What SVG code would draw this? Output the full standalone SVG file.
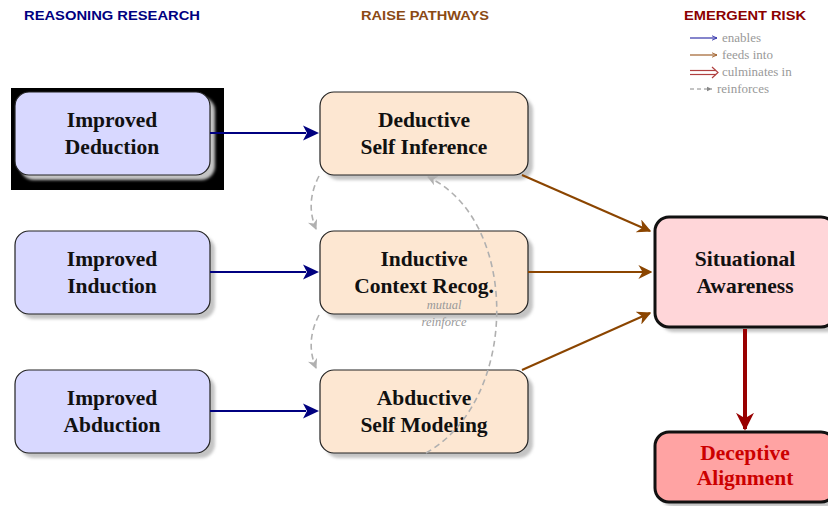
<svg xmlns="http://www.w3.org/2000/svg" width="828" height="506" viewBox="0 0 828 506">
<defs>
<filter id="bl" x="-10%" y="-10%" width="120%" height="120%">
<feGaussianBlur stdDeviation="1.5"/>
</filter>
<marker id="mo" viewBox="0 0 10 10" refX="9" refY="5" markerWidth="14" markerHeight="14" orient="auto" markerUnits="userSpaceOnUse"><path d="M0,0 L10,5 L0,10 L3,5 Z" fill="#8B4500"/></marker>
<marker id="mr" viewBox="0 0 10 10" refX="9" refY="5" markerWidth="18" markerHeight="18" orient="auto" markerUnits="userSpaceOnUse"><path d="M0,0 L10,5 L0,10 L3,5 Z" fill="#990000"/></marker>
<marker id="mg" viewBox="0 0 10 10" refX="9" refY="5" markerWidth="10" markerHeight="10" orient="auto" markerUnits="userSpaceOnUse"><path d="M0,0 L10,5 L0,10 L3,5 Z" fill="#b0b0b0"/></marker>
<marker id="lb" viewBox="0 0 10 10" refX="9" refY="5" markerWidth="6" markerHeight="6" orient="auto" markerUnits="userSpaceOnUse"><path d="M0,1 L9,5 L0,9" fill="none" stroke="#3333aa" stroke-width="1.5"/></marker>
<marker id="lo" viewBox="0 0 10 10" refX="9" refY="5" markerWidth="6" markerHeight="6" orient="auto" markerUnits="userSpaceOnUse"><path d="M0,1 L9,5 L0,9" fill="none" stroke="#a0602a" stroke-width="1.5"/></marker>
<marker id="lg" viewBox="0 0 10 10" refX="9" refY="5" markerWidth="6" markerHeight="6" orient="auto" markerUnits="userSpaceOnUse"><path d="M0,1 L9,5 L0,9 Z" fill="#888"/></marker>
</defs>
<style>
.hd{font-family:"Liberation Sans",Arial,sans-serif;font-weight:bold;font-size:13px;text-anchor:middle}
.lbl{font-family:"Liberation Serif","Times New Roman",serif;font-weight:bold;font-size:21.5px;text-anchor:middle;fill:#111}
.lg{font-family:"Liberation Serif","Times New Roman",serif;font-size:13px;fill:#999}
.left{fill:#D8D8FF;stroke:#222;stroke-width:1.2}
.mid{fill:#FDE7D2;stroke:#222;stroke-width:1.2}
.shd{fill:#c4c4c4;filter:url(#bl)}
.ml{font-family:"Liberation Serif","Times New Roman",serif;font-style:italic;font-size:12.5px;fill:#999;text-anchor:middle}
.dash{fill:none;stroke:#b0b0b0;stroke-width:1.6;stroke-dasharray:6,4}
</style>
<rect width="828" height="506" fill="#fff"/>
<text class="hd" x="112" y="20" fill="#000080" textLength="176" lengthAdjust="spacingAndGlyphs">REASONING RESEARCH</text>
<text class="hd" x="425" y="20" fill="#8B4A14" textLength="128" lengthAdjust="spacingAndGlyphs">RAISE PATHWAYS</text>
<text class="hd" x="745" y="20" fill="#8B0000" textLength="122" lengthAdjust="spacingAndGlyphs">EMERGENT RISK</text>
<g id="legend">
<line x1="690" y1="38" x2="717" y2="38" stroke="#3333aa" stroke-width="1.2" marker-end="url(#lb)"/>
<text class="lg" x="722" y="42">enables</text>
<line x1="690" y1="55" x2="717" y2="55" stroke="#a0602a" stroke-width="1.2" marker-end="url(#lo)"/>
<text class="lg" x="722" y="59">feeds into</text>
<line x1="690" y1="70.5" x2="716" y2="70.5" stroke="#b04040" stroke-width="1.2"/>
<line x1="690" y1="74.5" x2="716" y2="74.5" stroke="#b04040" stroke-width="1.2"/>
<path d="M712,67 L718,72.5 L712,78" fill="none" stroke="#b04040" stroke-width="1.2"/>
<text class="lg" x="722" y="76">culminates in</text>
<line x1="690" y1="89" x2="712" y2="89" stroke="#888" stroke-width="1" stroke-dasharray="4,3" marker-end="url(#lg)"/>
<text class="lg" x="717" y="93">reinforces</text>
</g>
<g id="n-ded">
<rect x="11" y="88" width="213" height="102" fill="#000"/>
<rect x="20" y="97" width="195" height="83" rx="14" class="shd"/>
<rect x="15" y="92" width="195" height="83" rx="14" class="left"/>
<text class="lbl" x="112" y="127">Improved</text>
<text class="lbl" x="112" y="154">Deduction</text>
</g>
<g id="n-ind">
<rect x="20" y="236" width="195" height="83" rx="14" class="shd"/>
<rect x="15" y="231" width="195" height="83" rx="14" class="left"/>
<text class="lbl" x="112" y="266">Improved</text>
<text class="lbl" x="112" y="293">Induction</text>
</g>
<g id="n-abd">
<rect x="20" y="375" width="195" height="83" rx="14" class="shd"/>
<rect x="15" y="370" width="195" height="83" rx="14" class="left"/>
<text class="lbl" x="112" y="405">Improved</text>
<text class="lbl" x="112" y="432">Abduction</text>
</g>
<g id="n-dsi">
<rect x="325" y="97" width="208" height="83" rx="14" class="shd"/>
<rect x="320" y="92" width="208" height="83" rx="14" class="mid"/>
<text class="lbl" x="424" y="127">Deductive</text>
<text class="lbl" x="424" y="154">Self Inference</text>
</g>
<g id="n-icr">
<rect x="325" y="236" width="208" height="83" rx="14" class="shd"/>
<rect x="320" y="231" width="208" height="83" rx="14" class="mid"/>
<text class="lbl" x="424" y="266">Inductive</text>
<text class="lbl" x="424" y="293">Context Recog.</text>
</g>
<g id="n-asm">
<rect x="325" y="375" width="208" height="83" rx="14" class="shd"/>
<rect x="320" y="370" width="208" height="83" rx="14" class="mid"/>
<text class="lbl" x="424" y="405">Abductive</text>
<text class="lbl" x="424" y="432">Self Modeling</text>
</g>
<g id="n-sa">
<rect x="660" y="222" width="180" height="110" rx="14" class="shd"/>
<rect x="655" y="217" width="180" height="110" rx="14" fill="#FFD6D9" stroke="#111" stroke-width="3"/>
<text class="lbl" x="745" y="266">Situational</text>
<text class="lbl" x="745" y="293">Awareness</text>
</g>
<g id="n-da">
<rect x="660" y="437" width="180" height="70" rx="14" class="shd"/>
<rect x="655" y="432" width="180" height="70" rx="14" fill="#FFA3A3" stroke="#111" stroke-width="3"/>
<text class="lbl" x="745" y="460" style="fill:#CC0000">Deceptive</text>
<text class="lbl" x="745" y="485" style="fill:#CC0000">Alignment</text>
</g>
<g id="connectors">
<line x1="210" y1="133" x2="306" y2="133" stroke="#000080" stroke-width="2"/>
<line x1="210" y1="272" x2="306" y2="272" stroke="#000080" stroke-width="2"/>
<line x1="210" y1="411" x2="306" y2="411" stroke="#000080" stroke-width="2"/>
<path d="M319,133 l-16,-7.5 l4,7.5 l-4,7.5 Z M319,272 l-16,-7.5 l4,7.5 l-4,7.5 Z M319,411 l-16,-7.5 l4,7.5 l-4,7.5 Z" fill="#000080"/>
<line x1="522" y1="175" x2="650" y2="231" stroke="#8B4500" stroke-width="2" marker-end="url(#mo)"/>
<line x1="528" y1="272" x2="651" y2="272" stroke="#8B4500" stroke-width="2" marker-end="url(#mo)"/>
<line x1="522" y1="370" x2="650" y2="313" stroke="#8B4500" stroke-width="2" marker-end="url(#mo)"/>
<line x1="745" y1="329" x2="745" y2="429" stroke="#990000" stroke-width="4" marker-end="url(#mr)"/>
<path class="dash" d="M319,176 Q305,203 316,229" marker-end="url(#mg)"/>
<path class="dash" d="M319,315 Q305,342 316,368" marker-end="url(#mg)"/>
<path class="dash" d="M426,453 C520,400 520,220 428,177" marker-end="url(#mg)"/>
<text class="ml" x="444" y="309">mutual</text>
<text class="ml" x="444" y="326">reinforce</text>
</g>
</svg>
